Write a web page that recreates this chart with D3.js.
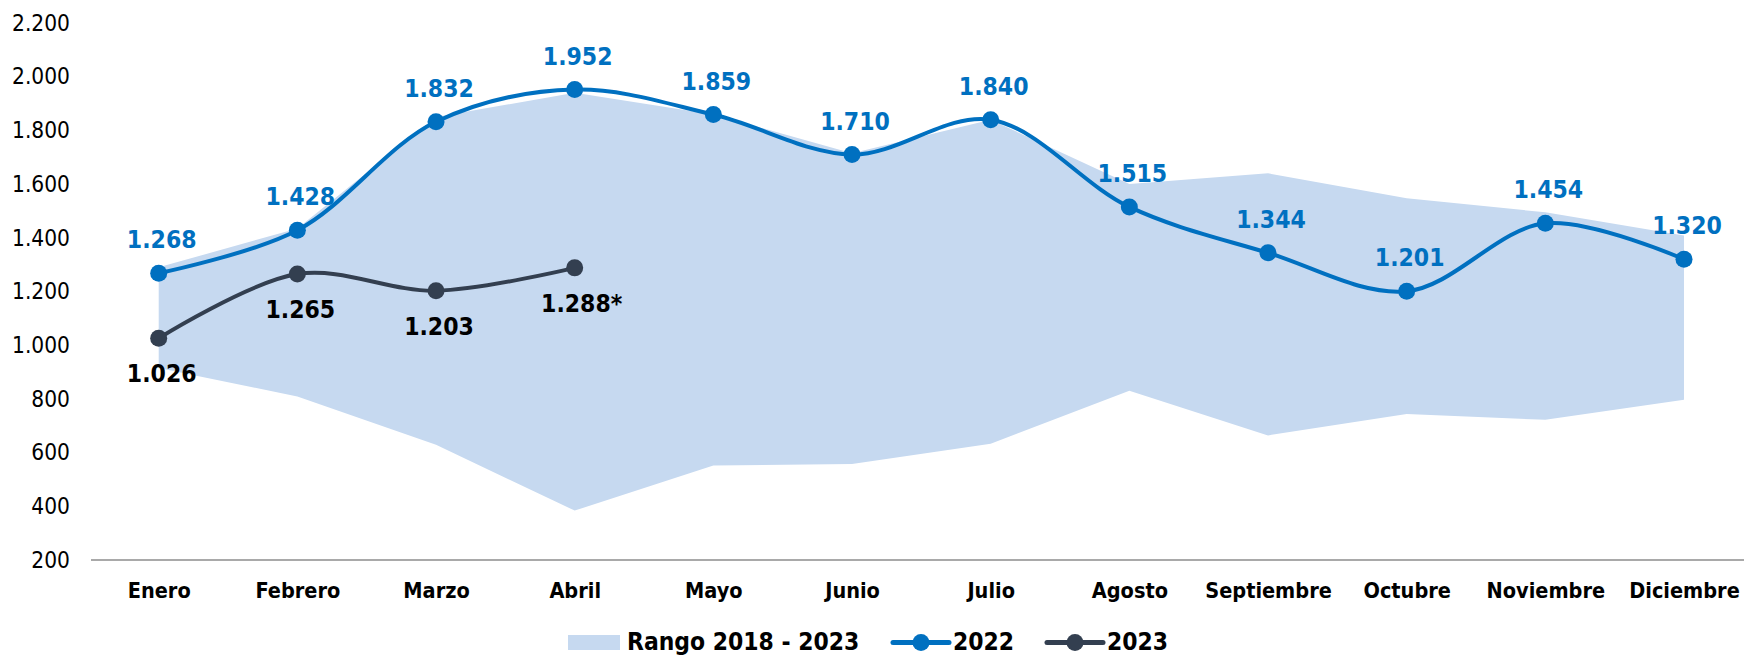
<!DOCTYPE html>
<html lang="es">
<head>
<meta charset="UTF-8">
<title>Rango 2018 - 2023</title>
<script src="https://d3js.org/d3.v7.min.js"></script>
<style>
    body {
        margin: 0;
        background: #ffffff;
    }
    svg text {
        font-family: "DejaVu Sans Condensed", "DejaVu Sans", sans-serif;
        font-stretch: condensed;
    }
    .tick-y text { font-size: 22.5px; fill: #000; }
    .tick-x text { font-size: 21.5px; font-weight: bold; fill: #000; }
    .lbl { font-size: 24.5px; font-weight: bold; }
    .legend text { font-size: 24.4px; font-weight: bold; fill: #000; }
</style>
</head>
<body>
<svg id="chart" width="1744" height="655"></svg>
<script>
    // datos
    const meses = ["Enero", "Febrero", "Marzo", "Abril", "Mayo", "Junio", "Julio",
                   "Agosto", "Septiembre", "Octubre", "Noviembre", "Diciembre"];
    const rangoMax = [1290, 1435, 1850, 1940, 1859, 1715, 1840, 1600, 1640, 1547, 1495, 1409];
    const rangoMin = [915, 809, 629, 384, 552, 558, 633, 830, 664, 744, 722, 797];
    const serie2022 = [1268, 1428, 1832, 1952, 1859, 1710, 1840, 1515, 1344, 1201, 1454, 1320];
    const serie2023 = [1026, 1265, 1203, 1288];
    const etiquetas2023 = ["1.026", "1.265", "1.203", "1.288*"];
    const yTicks = [200, 400, 600, 800, 1000, 1200, 1400, 1600, 1800, 2000, 2200];

    const azul = "#0070C0", oscuro = "#333F50", banda = "#C6D9F0";

    const svg = d3.select("#chart");
    const x = d3.scalePoint().domain(meses).range([158.7, 1684]);
    const y = d3.scaleLinear().domain([200, 2200]).range([560, 23]);

    const loc = d3.formatLocale({decimal: ",", thousands: ".", grouping: [3], currency: ["", ""]});
    const fmt = loc.format(",d");

    // banda del rango
    const area = d3.area()
        .x((d, i) => x(meses[i]))
        .y0((d, i) => y(rangoMin[i]))
        .y1(d => y(d));
    svg.append("path").attr("d", area(rangoMax)).attr("fill", banda);

    // eje y
    const gy = svg.append("g").attr("class", "tick-y")
        .attr("transform", "translate(70,0)")
        .call(d3.axisLeft(y).tickValues(yTicks).tickFormat(fmt).tickSize(0).tickPadding(0));
    gy.select(".domain").remove();

    // eje x
    const gx = svg.append("g").attr("class", "tick-x")
        .attr("transform", "translate(0,560)")
        .call(d3.axisBottom(x).tickSize(0).tickPadding(23));
    gx.select(".domain").remove();
    svg.append("line")
        .attr("x1", 91).attr("x2", 1744).attr("y1", 560).attr("y2", 560)
        .attr("stroke", "#8c8c8c").attr("stroke-width", 1.5);

    // lineas
    const linea = d3.line()
        .x((d, i) => x(meses[i]))
        .y(d => y(d))
        .curve(d3.curveCatmullRom.alpha(0.5));

    function serie(vals, color) {
        svg.append("path").attr("d", linea(vals))
            .attr("fill", "none").attr("stroke", color).attr("stroke-width", 4);
        svg.selectAll(null).data(vals).enter().append("circle")
            .attr("cx", (d, i) => x(meses[i]))
            .attr("cy", d => y(d))
            .attr("r", 8.5)
            .attr("fill", color);
    }
    serie(serie2022, azul);
    serie(serie2023, oscuro);

    // etiquetas
    svg.selectAll(null).data(serie2022).enter().append("text")
        .attr("class", "lbl")
        .attr("x", (d, i) => x(meses[i]) + 3)
        .attr("y", d => y(d) - 25)
        .attr("text-anchor", "middle")
        .attr("fill", azul)
        .text(d => fmt(d));

    svg.selectAll(null).data(serie2023).enter().append("text")
        .attr("class", "lbl")
        .attr("x", (d, i) => x(meses[i]) + 3 + (i === 3 ? 4 : 0))
        .attr("y", d => y(d) + 44)
        .attr("text-anchor", "middle")
        .attr("fill", "#000")
        .text((d, i) => etiquetas2023[i]);

    // leyenda
    const lg = svg.append("g").attr("class", "legend");
    lg.append("rect").attr("x", 568).attr("y", 635).attr("width", 52).attr("height", 15).attr("fill", banda);
    lg.append("text").attr("x", 627).attr("y", 650).text("Rango 2018 - 2023");

    [[893, "2022", azul], [1047, "2023", oscuro]].forEach(([lx, txt, c]) => {
        lg.append("line").attr("x1", lx).attr("x2", lx + 56).attr("y1", 642.5).attr("y2", 642.5)
            .attr("stroke", c).attr("stroke-width", 5).attr("stroke-linecap", "round");
        lg.append("circle").attr("cx", lx + 28).attr("cy", 642.5).attr("r", 8.5).attr("fill", c);
        lg.append("text").attr("x", lx + 60).attr("y", 650).text(txt);
    });
</script>
</body>
</html>
